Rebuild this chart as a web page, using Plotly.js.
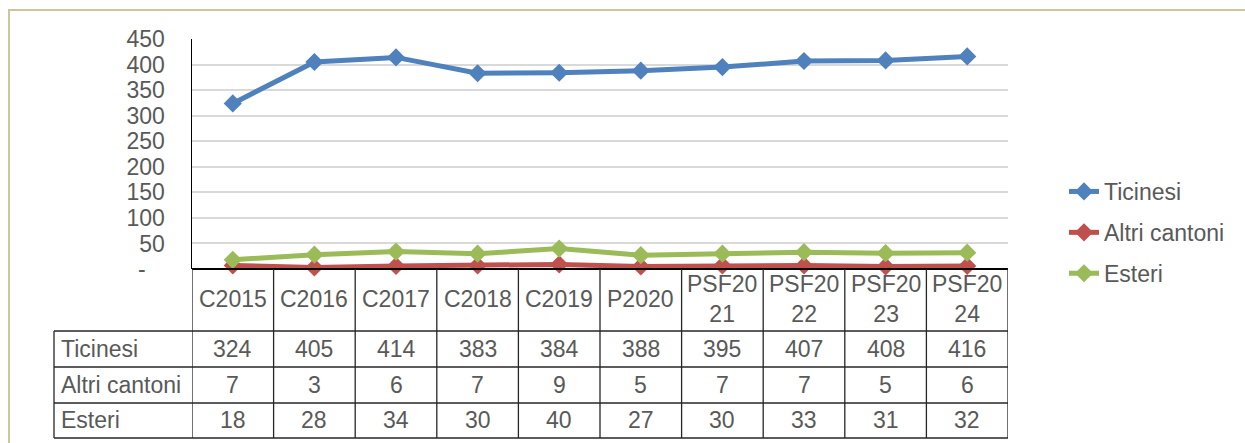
<!DOCTYPE html>
<html>
<head>
<meta charset="utf-8">
<script src="https://cdn.plot.ly/plotly-3.0.1.min.js"></script>
<style>html,body{margin:0;padding:0;background:#fff;}#chart{width:1245px;height:443px;}</style>
</head>
<body>
<div id="chart"></div>
<script>
// ---- data ----
const categories = ['C2015','C2016','C2017','C2018','C2019','P2020','PSF2021','PSF2022','PSF2023','PSF2024'];
const seriesNames = ['Ticinesi','Altri cantoni','Esteri'];
const ticinesi = [324,405,414,383,384,388,395,407,408,416];
const altriCantoni = [7,3,6,7,9,5,7,7,5,6];
const esteri = [18,28,34,30,40,27,30,33,31,32];
const yTickVals = [0,50,100,150,200,250,300,350,400,450];
const yTickText = ['-\u00a0\u00a0\u00a0','50','100','150','200','250','300','350','400','450'];

// ---- layout geometry (pixels) ----
const W = 1245, H = 443;
const L = 192, R = 1008, T = 39, B = 269;
const px = x => (x - L) / (R - L);
const py = y => (B - y) / (B - T);
const textColor = '#595959';
const font = 'Liberation Sans, Arial, sans-serif';
const fs = 23;

const colors = ['#4F81BD', '#C0504D', '#9BBB59'];
const values = [ticinesi, altriCantoni, esteri];
const xIdx = categories.map((c, i) => i);

const traces = values.map((v, k) => ({
  type: 'scatter', mode: 'lines+markers', name: seriesNames[k],
  x: xIdx, y: v,
  line: {color: colors[k], width: 5},
  marker: {symbol: 'diamond', size: 14, color: colors[k]},
  legendgroup: 'g' + k,
  cliponaxis: false
}));
const shapes = [];
const annotations = [];
const lineCol = '#262626';
// outer frame
shapes.push({type:'rect', xref:'paper', yref:'paper', x0: px(9), x1: px(1260), y0: py(10), y1: py(460),
  line:{color:'#CFC59A', width:2}, layer:'below'});
// table horizontal lines
[331, 367, 403, 438].forEach(y => shapes.push({type:'line', xref:'paper', yref:'paper',
  x0: px(54), x1: px(R), y0: py(y), y1: py(y), line:{color: lineCol, width:1.3}}));
// top of table (axis baseline)
shapes.push({type:'line', xref:'paper', yref:'paper', x0: 0, x1: 1, y0: 0, y1: 0, line:{color:'#000', width:2.2}});
// vertical column lines
for (let k = 0; k <= categories.length; k++) {
  shapes.push({type:'line', xref:'x', yref:'paper', x0: k - 0.5, x1: k - 0.5, y0: 0, y1: py(438),
    line:{color: lineCol, width:1.3}});
}
// left border of row labels
shapes.push({type:'line', xref:'paper', yref:'paper', x0: px(54), x1: px(54), y0: py(331), y1: py(438),
  line:{color: lineCol, width:1.3}});

// header labels
categories.forEach((c, i) => {
  const txt = c.length > 5 ? c.slice(0,5) + '<br>' + c.slice(5) : c;
  annotations.push({xref:'x', yref:'paper', x: i, y: py(299), text: txt, showarrow:false,
    font:{family: font, size: fs, color: textColor}, align:'center', yanchor:'middle'});
});
// row labels and values
const rowY = [349, 385, 420];
seriesNames.forEach((n, k) => {
  annotations.push({xref:'paper', yref:'paper', x: px(59), y: py(rowY[k]), text: n, showarrow:false,
    xanchor:'left', yanchor:'middle', font:{family: font, size: fs, color: textColor}});
  values[k].forEach((v, i) => {
    annotations.push({xref:'x', yref:'paper', x: i, y: py(rowY[k]), text: String(v), showarrow:false,
      xanchor:'center', yanchor:'middle', font:{family: font, size: fs, color: textColor}});
  });
});

const layout = {
  width: W, height: H,
  margin: {l: L, r: W - R, t: T, b: H - B, pad: 0},
  paper_bgcolor: '#fff', plot_bgcolor: '#fff',
  font: {family: font, size: fs, color: textColor},
  showlegend: true,
  legend: {x: px(1064), xanchor: 'left', y: py(170), yanchor: 'top',
    font: {family: font, size: fs, color: textColor}, tracegroupgap: 8, traceorder: 'grouped',
    bgcolor: 'rgba(0,0,0,0)'},
  xaxis: {range: [-0.5, categories.length - 0.5], showticklabels: false, showgrid: false,
    zeroline: false, showline: false, ticks: '', fixedrange: true},
  yaxis: {range: [0, 450], tickvals: yTickVals, ticktext: yTickText, showgrid: true,
    gridcolor: '#D9D9D9', gridwidth: 2, zeroline: false, showline: true, linecolor: '#000', linewidth: 1.5,
    ticks: '', ticklabelstandoff: 21, tickfont: {family: font, size: fs, color: textColor}, fixedrange: true},
  shapes: shapes,
  annotations: annotations
};
Plotly.newPlot('chart', traces, layout, {displayModeBar: false, staticPlot: true});
</script>
</body>
</html>
